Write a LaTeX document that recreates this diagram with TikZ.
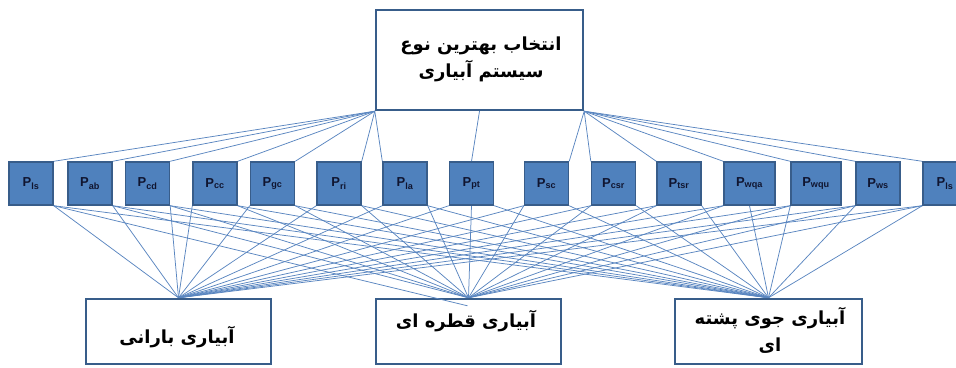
\documentclass[tikz,border=0pt]{standalone}
\usepackage{fontspec}
\setmainfont{Liberation Sans}
\newfontfamily\arabicfont[Script=Arabic]{DejaVu Sans}
\TeXXeTstate=1
\usetikzlibrary{backgrounds,calc}
\definecolor{boxblue}{HTML}{4F81BD}
\definecolor{boxedge}{HTML}{385D8A}
\definecolor{linkblue}{HTML}{5A86C0}
\definecolor{ptextcol}{HTML}{101530}
\begin{document}
\begin{tikzpicture}[x=1pt,y=-1pt,
  bigbox/.style={draw=boxedge,line width=2.4pt,fill=white,inner sep=0pt,
    minimum width=#1},
  bigbox/.default=185pt,
  fatext/.style={font=\arabicfont\bfseries\fontsize{18}{27}\selectfont,
    align=center,inner sep=0pt},
  pbox/.style={draw=boxedge,line width=1.4pt,fill=boxblue,inner sep=0pt,
    minimum width=#1,minimum height=43pt,text=ptextcol,
    font=\bfseries\fontsize{13}{14}\selectfont},
  pbox/.default=44pt,
  conn/.style={draw=linkblue,line width=0.75pt}
]
\useasboundingbox (0,0) rectangle (956,367);
% top box
\node[bigbox=207pt,minimum height=100pt] (T) at (479.5,60) {};
\node[fatext] (Ttext) at (481,59)
  {\beginR انتخاب بهترین نوع\endR\\ \beginR سیستم آبیاری\endR};
% small boxes
\node[pbox] (s1) at (31,183.5) {P\textsubscript{ls}};
\node[pbox] (s2) at (90,183.5) {P\textsubscript{ab}};
\node[pbox] (s3) at (147.5,183.5) {P\textsubscript{cd}};
\node[pbox] (s4) at (215,183.5) {P\textsubscript{cc}};
\node[pbox] (s5) at (272.5,183.5) {P\textsubscript{gc}};
\node[pbox] (s6) at (339,183.5) {P\textsubscript{ri}};
\node[pbox] (s7) at (405,183.5) {P\textsubscript{la}};
\node[pbox] (s8) at (471.5,183.5) {P\textsubscript{pt}};
\node[pbox] (s9) at (546.5,183.5) {P\textsubscript{sc}};
\node[pbox] (s10) at (613.5,183.5) {P\textsubscript{csr}};
\node[pbox] (s11) at (679,183.5) {P\textsubscript{tsr}};
\node[pbox=51pt] (s12) at (749.5,183.5) {P\textsubscript{wqa}};
\node[pbox=50pt] (s13) at (816,183.5) {P\textsubscript{wqu}};
\node[pbox] (s14) at (878,183.5) {P\textsubscript{ws}};
\node[pbox] (s15) at (945,183.5) {P\textsubscript{ls}};
% bottom boxes
\node[bigbox=185pt,minimum height=65pt] (b1) at (178.5,331.5) {};
\node[bigbox=185pt,minimum height=65pt] (b2) at (468.5,331.5) {};
\node[bigbox=187pt,minimum height=65pt] (b3) at (768.5,331.5) {};
\node[fatext] (b1text) at (177,337) {\beginR آبیاری بارانی\endR};
\node[fatext] (b2text) at (466,321) {\beginR آبیاری قطره ای\endR};
\node[fatext] (b3text) at (770,330)
  {\beginR آبیاری جوی پشته\endR\\ \beginR ای\endR};
% connectors
\begin{scope}[on background layer]
  \foreach \i in {1,...,6} \draw[conn] (s\i.north east) -- (T.south west);
  \draw[conn] (s7.north west) -- (T.south west);
  \draw[conn] (s8.north) -- (T.south);
  \draw[conn] (s9.north east) -- (T.south east);
  \foreach \i in {10,...,15} \draw[conn] (s\i.north west) -- (T.south east);
  % to b1
  \foreach \i in {1,...,3} \draw[conn] (s\i.south east) -- (b1.north);
  \foreach \i in {4,...,15} \draw[conn] (s\i.south west) -- (b1.north);
  % to b2
  \foreach \i in {2,...,7} \draw[conn] (s\i.south east) -- (b2.north);
  \draw[conn] (s8.south) -- (b2.north);
  \foreach \i in {9,...,15} \draw[conn] (s\i.south west) -- (b2.north);
  % to b3
  \foreach \i in {1,...,11} \draw[conn] (s\i.south east) -- (b3.north);
  \draw[conn] (s12.south) -- (b3.north);
  \foreach \i in {13,...,15} \draw[conn] (s\i.south west) -- (b3.north);
\end{scope}
\coordinate (b2in) at ($(b2.north)+(-1,8)$);
\draw[conn] (s1.south east) -- (b2in);
\end{tikzpicture}
\end{document}
